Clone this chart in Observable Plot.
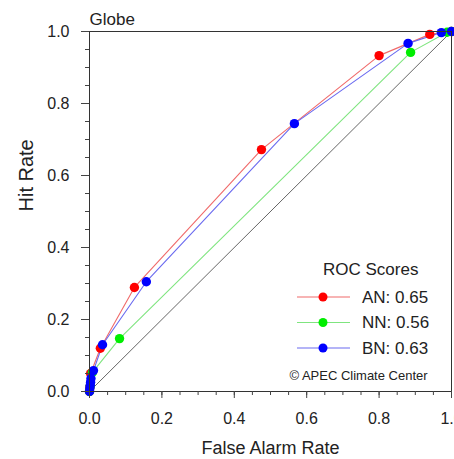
<!DOCTYPE html>
<html>
<head>
<meta charset="utf-8">
<script src="https://cdn.jsdelivr.net/npm/d3@7"></script>
<script src="https://cdn.jsdelivr.net/npm/@observablehq/plot@0.6"></script>
<style>
  html, body { margin: 0; padding: 0; background: white; overflow: hidden; }
  #chart { position: relative; width: 454px; height: 459px; }
</style>
</head>
<body>
<div id="chart"></div>
<script>
const title = "Globe";
const xLabel = "False Alarm Rate";
const yLabel = "Hit Rate";
const legendTitle = "ROC Scores";
const seriesNames = ["AN", "NN", "BN"];
const seriesColors = ["#ff0000", "#00ee00", "#0000ff"];
const lineColors = ["#f06a6a", "#7fe57f", "#6a6af0"];
const rocScores = ["0.65", "0.56", "0.63"];
const credit = "© APEC Climate Center";

const anX = [0, 0.001, 0.003, 0.03, 0.124, 0.475, 0.80, 0.94, 1.0];
const anY = [0, 0.012, 0.05, 0.12, 0.289, 0.672, 0.933, 0.992, 1.0];
const nnX = [0, 0.002, 0.008, 0.083, 0.887, 0.988, 1.0];
const nnY = [0, 0.015, 0.053, 0.147, 0.942, 0.998, 1.0];
const bnX = [0, 0.001, 0.002, 0.003, 0.004, 0.011, 0.036, 0.157, 0.566, 0.88, 0.972, 1.0];
const bnY = [0, 0.008, 0.017, 0.026, 0.036, 0.058, 0.13, 0.305, 0.744, 0.967, 0.997, 1.0];

const majorTicks = [0, 0.2, 0.4, 0.6, 0.8, 1.0];
const minorTicks = d3.range(0, 1.0001, 0.05);
const diag = [0, 1];

const series = [
  {name: "AN", xs: anX, ys: anY},
  {name: "NN", xs: nnX, ys: nnY},
  {name: "BN", xs: bnX, ys: bnY}
];
const rows = series.flatMap(s => s.xs.map((x, i) => ({series: s.name, x, y: s.ys[i]})));

const W = 454, H = 459;
const mL = 89, mR = 3, mT = 31, mB = 68;
const font = "'Liberation Sans', Arial, Helvetica, sans-serif";

const plot = Plot.plot({
  width: W, height: H,
  marginLeft: mL, marginRight: mR, marginTop: mT, marginBottom: mB,
  style: {fontFamily: font, fontSize: "14px", color: "#222", background: "white"},
  x: {domain: [0, 1], label: null},
  y: {domain: [0, 1], label: null},
  marks: [
    Plot.line(diag, {x: d => d, y: d => d, stroke: "#666", strokeWidth: 1}),
    ...series.map((s, k) => Plot.line(rows.filter(r => r.series === s.name), {x: "x", y: "y", stroke: lineColors[k], strokeWidth: 1.1})),
    ...series.map((s, k) => Plot.dot(rows.filter(r => r.series === s.name), {x: "x", y: "y", fill: seriesColors[k], r: 4.7, stroke: "none"})),
    Plot.frame({stroke: "#333", strokeWidth: 1}),
    Plot.axisX(minorTicks, {tickSize: 4, text: null, label: null, stroke: "#444"}),
    Plot.axisX(majorTicks, {tickSize: 7, tickPadding: 14, tickFormat: d3.format(".1f"), fontSize: 16, label: null, stroke: "#444"}),
    Plot.axisY(minorTicks, {tickSize: 4, text: null, label: null, stroke: "#444"}),
    Plot.axisY(majorTicks, {tickSize: 8, tickPadding: 12, tickFormat: d3.format(".1f"), fontSize: 16, label: null, stroke: "#444"}),
    Plot.text([xLabel], {frameAnchor: "bottom", lineAnchor: "middle", dy: 57, text: d => d, fontSize: 18, fill: "#222"}),
    Plot.text([yLabel], {frameAnchor: "left", lineAnchor: "middle", dx: -63, rotate: -90, text: d => d, fontSize: 20, fill: "#222"}),
    Plot.text([title], {frameAnchor: "top-left", lineAnchor: "middle", dy: -12, text: d => d, fontSize: 17, textAnchor: "start", fill: "#222"})
  ]
});
document.getElementById("chart").appendChild(plot);

// legend inside plot area
const svg = d3.select(plot);
const g = svg.append("g").attr("font-family", font).attr("fill", "#222").attr("text-anchor", "start");
const lx0 = 297, lx1 = 350, ldot = 323, ltx = 362;
g.append("text").attr("x", 323).attr("y", 269).attr("text-anchor", "start")
  .attr("dominant-baseline", "central").attr("font-size", 17).text(legendTitle);
seriesNames.forEach((n, k) => {
  const yy = 297 + k * 25.5;
  g.append("line").attr("x1", lx0).attr("x2", lx1).attr("y1", yy).attr("y2", yy)
    .attr("stroke", lineColors[k]).attr("stroke-width", 1.1);
  g.append("circle").attr("cx", ldot).attr("cy", yy).attr("r", 4.5).attr("fill", seriesColors[k]);
  g.append("text").attr("x", ltx).attr("y", yy).attr("dominant-baseline", "central")
    .attr("text-anchor", "start").attr("font-size", 17).text(n + ": " + rocScores[k]);
});
g.append("text").attr("x", 358.5).attr("y", 375).attr("text-anchor", "middle")
  .attr("dominant-baseline", "central").attr("font-size", 13).text(credit);
</script>
</body>
</html>
